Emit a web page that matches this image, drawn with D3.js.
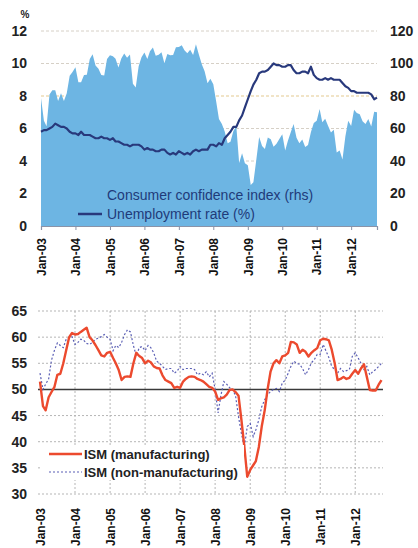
<!DOCTYPE html>
<html><head><meta charset="utf-8">
<script src="https://cdn.jsdelivr.net/npm/d3@7"></script>
<style>body{margin:0;background:#fff}svg{display:block}</style>
</head><body><svg id="c" width="418" height="548"></svg>
<script>
// ---- data (monthly, Jan-03 .. Oct-12) ----
const startMonth = "2003-01";
const tickLabels = ["Jan-03","Jan-04","Jan-05","Jan-06","Jan-07","Jan-08","Jan-09","Jan-10","Jan-11","Jan-12"];
const leftTicks = [0,2,4,6,8,10,12];
const rightTicks = [0,20,40,60,80,100,120];
const ismTicks = [30,35,40,45,50,55,60,65];

const consumerConfidence = [
 78.8,64.8,61.4,81.0,83.6,83.5,77.0,81.7,77.0,81.7,92.5,94.8,
 97.7,88.5,88.5,93.0,93.1,102.8,105.7,98.7,96.7,92.9,92.6,102.7,
 105.1,104.4,103.0,97.5,103.1,106.2,103.6,105.5,87.5,85.2,98.3,103.8,
 106.8,102.7,107.5,109.8,104.7,105.4,107.0,100.2,105.9,105.1,105.3,110.0,
 110.2,111.2,108.2,106.3,108.5,105.3,111.9,105.6,99.5,95.2,87.8,90.6,
 87.3,76.4,65.9,62.8,58.1,51.0,51.9,58.5,61.4,38.8,44.7,38.6,
 37.4,25.3,26.9,40.8,54.8,49.3,47.4,54.5,53.4,48.7,50.6,53.6,
 56.5,46.4,52.3,57.7,62.7,54.3,51.0,53.2,48.6,49.9,57.8,63.4,
 64.8,72.0,63.8,66.0,61.7,57.6,59.2,45.2,46.4,40.9,55.2,64.8,
 61.5,71.6,69.5,68.7,64.4,62.7,65.9,61.3,70.3,70.0];
const unemployment = [
 5.8,5.9,5.9,6.0,6.1,6.3,6.2,6.1,6.1,6.0,5.8,5.7,
 5.7,5.6,5.8,5.6,5.6,5.6,5.5,5.4,5.4,5.5,5.4,5.4,
 5.3,5.4,5.2,5.2,5.1,5.0,5.0,4.9,5.0,5.0,5.0,4.9,
 4.7,4.8,4.7,4.7,4.6,4.6,4.7,4.7,4.5,4.4,4.5,4.4,
 4.6,4.5,4.4,4.5,4.4,4.6,4.7,4.6,4.7,4.7,4.7,5.0,
 5.0,4.9,5.1,5.0,5.4,5.6,5.8,6.1,6.1,6.5,6.8,7.3,
 7.8,8.3,8.7,9.0,9.4,9.5,9.5,9.6,9.8,10.0,9.9,9.9,
 9.8,9.8,9.9,9.9,9.6,9.4,9.4,9.5,9.5,9.4,9.8,9.3,
 9.1,9.0,9.0,9.1,9.0,9.1,9.0,9.0,9.0,8.8,8.6,8.5,
 8.3,8.3,8.2,8.2,8.2,8.2,8.2,8.1,7.8,7.9];
const ismManufacturing = [
 51.5,46.8,46.0,48.5,49.5,50.5,52.8,53.0,55.0,57.5,60.0,60.8,
 60.5,60.6,61.0,61.4,61.8,60.0,59.4,58.5,57.5,56.5,56.3,57.0,
 57.2,56.0,55.0,53.7,51.8,52.4,52.5,52.4,55.0,57.0,56.4,56.0,
 55.0,55.5,55.2,54.4,54.1,54.0,52.7,51.8,51.5,51.2,50.3,50.5,
 50.3,51.5,52.0,52.4,52.5,52.4,52.0,51.8,51.5,51.0,50.5,50.3,
 49.6,48.0,48.3,48.5,49.0,49.9,50.0,49.5,48.8,44.2,39.0,33.3,
 34.6,35.5,36.3,39.0,42.9,46.0,50.0,53.4,55.0,55.6,55.0,56.3,
 56.5,57.0,59.1,59.0,58.6,57.0,57.6,57.2,56.3,57.0,57.5,57.9,
 59.4,59.7,59.6,59.4,57.6,55.0,51.8,52.0,52.4,52.0,52.2,53.0,
 53.7,53.0,54.0,54.8,52.4,49.9,49.8,49.8,50.9,51.8];
const ismNonManufacturing = [
 53.1,50.0,51.0,52.0,55.6,57.5,58.9,58.4,58.0,59.6,59.8,60.1,
 58.6,59.0,59.6,59.4,58.8,58.6,59.0,59.6,59.8,60.1,60.5,60.0,
 59.6,57.4,58.4,58.0,59.0,60.5,61.4,61.0,58.4,56.4,58.0,58.2,
 57.4,58.4,58.0,57.0,55.4,55.0,54.4,53.8,54.0,54.0,53.1,53.5,
 54.4,53.8,54.0,54.0,54.0,53.8,52.8,53.1,52.8,53.4,52.4,53.1,
 50.0,45.5,48.8,51.5,51.0,50.3,50.0,48.8,44.8,41.6,39.0,42.9,
 43.5,41.0,42.3,44.2,46.7,48.0,49.0,49.6,50.0,50.2,49.6,51.2,
 51.8,53.1,54.4,55.4,55.0,54.8,54.0,52.8,53.8,55.1,55.7,56.7,
 56.7,58.6,57.4,56.1,54.4,53.8,53.1,54.0,53.4,53.6,53.8,56.3,
 57.0,56.0,55.0,53.8,54.4,52.8,53.4,53.8,54.4,55.0];

// ---- setup ----
const svg = d3.select("#c");
const FONT = "'Liberation Sans', Arial, sans-serif";
const parse = d3.timeParse("%Y-%m");
const start = parse(startMonth);
const dates = consumerConfidence.map((_, i) => d3.timeMonth.offset(start, i));
const tickDates = tickLabels.map((_, i) => d3.timeYear.offset(start, i));

// ================= TOP CHART =================
const x1 = d3.scaleTime().domain([dates[0], dates[dates.length - 1]]).range([41, 377]);
const yL = d3.scaleLinear().domain([0, 12]).range([226, 31]);
const yR = d3.scaleLinear().domain([0, 120]).range([226, 31]);

const gTop = svg.append("g");
gTop.append("g").selectAll("line").data(leftTicks.filter(v => v > 0)).join("line")
  .attr("x1", 41).attr("x2", 377)
  .attr("y1", d => yL(d)).attr("y2", d => yL(d))
  .attr("stroke", (d) => d === 8 ? "#e3c98f" : "#d6d0c6")
  .attr("stroke-width", 1).attr("stroke-dasharray", "3,2");

gTop.append("path").datum(consumerConfidence)
  .attr("fill", "#6db5e3")
  .attr("d", d3.area().x((d, i) => x1(dates[i])).y0(yL(0)).y1(d => yR(d)));

gTop.append("path").datum(unemployment)
  .attr("fill", "none").attr("stroke", "#28397c").attr("stroke-width", 2.2)
  .attr("stroke-linejoin", "round")
  .attr("d", d3.line().x((d, i) => x1(dates[i])).y(d => yL(d)));

// left axis
const axL = gTop.append("g").attr("transform", "translate(41,0)")
  .call(d3.axisLeft(yL).tickValues(leftTicks).tickSize(0).tickPadding(14));
axL.select(".domain").remove();
axL.selectAll("text").attr("font-family", FONT).attr("font-size", 14).attr("font-weight", "bold").attr("fill", "#222");
// right axis
const axR = gTop.append("g").attr("transform", "translate(377,0)")
  .call(d3.axisRight(yR).tickValues(rightTicks).tickSize(0).tickPadding(13));
axR.select(".domain").remove();
axR.selectAll("text").attr("font-family", FONT).attr("font-size", 14).attr("font-weight", "bold").attr("fill", "#222");

gTop.append("text").attr("x", 25).attr("y", 18).attr("text-anchor", "middle")
  .attr("font-family", FONT).attr("font-size", 10).attr("font-weight", "bold").attr("fill", "#222").text("%");

// bottom axis
const axB1 = gTop.append("g").attr("transform", "translate(0,226)")
  .call(d3.axisBottom(x1).tickValues(tickDates).tickSize(4).tickFormat((d, i) => tickLabels[i]));
axB1.select(".domain").attr("stroke", "#8a93a8").attr("stroke-width", 1.2);
axB1.selectAll(".tick line").attr("stroke", "#8a93a8");
axB1.selectAll("text").attr("font-family", FONT).attr("font-size", 12).attr("font-weight", "bold").attr("fill", "#111")
  .attr("transform", "rotate(-90)").attr("text-anchor", "end").attr("x", -12).attr("y", 0).attr("dy", "0.35em");

// legend
const lg1 = gTop.append("g").attr("font-family", FONT).attr("font-size", 14).attr("fill", "#1f3b7a");
lg1.append("text").attr("x", 107).attr("y", 200).text("Consumer confidence index (rhs)");
lg1.append("line").attr("x1", 78).attr("x2", 102).attr("y1", 214).attr("y2", 214)
  .attr("stroke", "#28397c").attr("stroke-width", 2.5);
lg1.append("text").attr("x", 107).attr("y", 219).text("Unemployment rate (%)");

// ================= BOTTOM CHART =================
const x2 = d3.scaleTime().domain([dates[0], dates[dates.length - 1]]).range([40, 381.5]);
const y2 = d3.scaleLinear().domain([30, 65]).range([494, 311]);
const gBot = svg.append("g");

gBot.append("g").selectAll("line").data(ismTicks.filter(v => v !== 50)).join("line")
  .attr("x1", 38).attr("x2", 383)
  .attr("y1", d => y2(d)).attr("y2", d => y2(d))
  .attr("stroke", "#b5b5b5").attr("stroke-width", 1).attr("stroke-dasharray", "2,2");
gBot.append("g").selectAll("line").data(tickDates.slice(1)).join("line")
  .attr("x1", d => x2(d)).attr("x2", d => x2(d))
  .attr("y1", y2(65)).attr("y2", y2(30))
  .attr("stroke", "#b5b5b5").attr("stroke-width", 1).attr("stroke-dasharray", "2,2");
gBot.append("line").attr("x1", 38).attr("x2", 383).attr("y1", y2(50)).attr("y2", y2(50))
  .attr("stroke", "#3a3a3a").attr("stroke-width", 1.5);

const ln2 = d3.line().x((d, i) => x2(dates[i])).y(d => y2(d));
gBot.append("path").datum(ismNonManufacturing)
  .attr("fill", "none").attr("stroke", "#5b5fb5").attr("stroke-width", 1.2)
  .attr("stroke-dasharray", "2,2").attr("d", ln2);
gBot.append("path").datum(ismManufacturing)
  .attr("fill", "none").attr("stroke", "#ec4a2e").attr("stroke-width", 2.4)
  .attr("stroke-linejoin", "round").attr("d", ln2);

const axL2 = gBot.append("g").attr("transform", "translate(38,0)")
  .call(d3.axisLeft(y2).tickValues(ismTicks).tickSize(0).tickPadding(11));
axL2.select(".domain").remove();
axL2.selectAll("text").attr("font-family", FONT).attr("font-size", 14).attr("font-weight", "bold").attr("fill", "#222");

const axB2 = gBot.append("g").attr("transform", "translate(0,494)")
  .call(d3.axisBottom(x2).tickValues(tickDates).tickSize(0).tickFormat((d, i) => tickLabels[i]));
axB2.select(".domain").remove();
axB2.selectAll("text").attr("font-family", FONT).attr("font-size", 12).attr("font-weight", "bold").attr("fill", "#111")
  .attr("transform", "rotate(-90)").attr("text-anchor", "end").attr("x", -14).attr("y", 0).attr("dy", "0.35em");

// legend
const lg2 = gBot.append("g").attr("font-family", FONT).attr("font-size", 13).attr("font-weight", "bold").attr("fill", "#222");
lg2.append("rect").attr("x", 42).attr("y", 445).attr("width", 202).attr("height", 35).attr("fill", "#fff");
lg2.append("line").attr("x1", 49).attr("x2", 82).attr("y1", 454).attr("y2", 454)
  .attr("stroke", "#ec4a2e").attr("stroke-width", 2.4);
lg2.append("text").attr("x", 84).attr("y", 458.5).text("ISM (manufacturing)");
lg2.append("line").attr("x1", 49).attr("x2", 82).attr("y1", 472).attr("y2", 472)
  .attr("stroke", "#5b5fb5").attr("stroke-width", 1.2).attr("stroke-dasharray", "2,2");
lg2.append("text").attr("x", 84).attr("y", 476.5).text("ISM (non-manufacturing)");
</script>
</body></html>
